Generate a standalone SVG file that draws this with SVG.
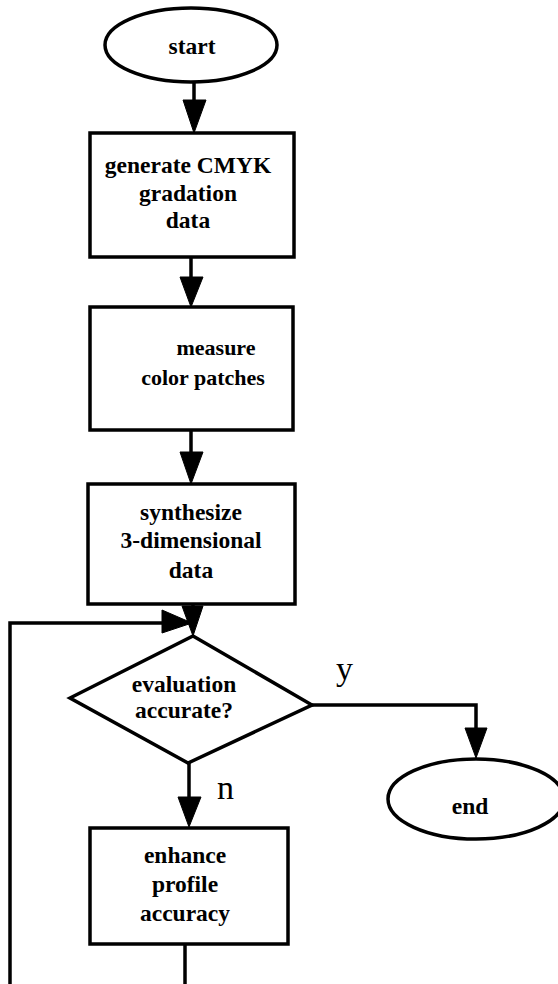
<svg xmlns="http://www.w3.org/2000/svg" width="558" height="984" viewBox="0 0 558 984">
<style>
.shape{fill:#fff;stroke:#000;stroke-width:3.5}
.line{fill:none;stroke:#000;stroke-width:3.5}
.head{fill:#000;stroke:#000;stroke-width:1}
.t{font-family:"Liberation Serif","Times New Roman",serif;font-weight:bold;font-size:23.5px;text-anchor:middle;fill:#000}
.s{font-size:22px}
.lbl{font-family:"Liberation Serif","Times New Roman",serif;font-size:34px;fill:#000}
</style>
<rect width="558" height="984" fill="#fff"/>
<g id="connectors">
<line class="line" x1="194" y1="82" x2="194" y2="110"/>
<polygon class="head" points="183,100 206,100 194,133"/>
<line class="line" x1="191" y1="257" x2="191" y2="285"/>
<polygon class="head" points="180,277 203,277 191,307"/>
<line class="line" x1="191" y1="430" x2="191" y2="460"/>
<polygon class="head" points="180,452 203,452 191,484"/>
<line class="line" x1="193" y1="604" x2="193" y2="615"/>
<polygon class="head" points="182,606 203,606 193,636"/>
<polyline class="line" points="10,984 10,623 170,623"/>
<polygon class="head" points="162,610 192,623 162,633"/>
<polyline class="line" points="312,705 476,705 476,735"/>
<polygon class="head" points="465,728 487,728 476,758"/>
<line class="line" x1="189" y1="763" x2="189" y2="805"/>
<polygon class="head" points="178,797 201,797 189,827"/>
<line class="line" x1="185" y1="944" x2="185" y2="984"/>
</g>
<g id="start">
<ellipse class="shape" cx="191" cy="45" rx="86" ry="37"/>
<text class="t" x="192" y="54">start</text>
</g>
<g id="generate">
<rect class="shape" x="90" y="133" width="204" height="124"/>
<text class="t" x="188" y="173">generate CMYK</text>
<text class="t" x="188" y="201">gradation</text>
<text class="t" x="188" y="228">data</text>
</g>
<g id="measure">
<rect class="shape" x="90" y="307" width="203" height="123"/>
<text class="t s" x="216" y="355">measure</text>
<text class="t s" x="203" y="385">color patches</text>
</g>
<g id="synthesize">
<rect class="shape" x="88" y="484" width="207" height="120"/>
<text class="t" x="191" y="520">synthesize</text>
<text class="t" x="191" y="548">3-dimensional</text>
<text class="t" x="191" y="578">data</text>
</g>
<g id="evaluation">
<polygon class="shape" points="193,636 312,705 188,763 70,698"/>
<text class="t" x="184" y="692">evaluation</text>
<text class="t" x="184" y="718">accurate?</text>
</g>
<g id="end">
<ellipse class="shape" cx="476" cy="799" rx="88" ry="40"/>
<text class="t" x="470" y="814">end</text>
</g>
<g id="enhance">
<rect class="shape" x="90" y="828" width="198" height="116"/>
<text class="t" x="185" y="863">enhance</text>
<text class="t" x="185" y="892">profile</text>
<text class="t" x="185" y="921">accuracy</text>
</g>
<g id="labels">
<text class="lbl" x="336" y="680">y</text>
<text class="lbl" x="217" y="799">n</text>
</g>
</svg>
